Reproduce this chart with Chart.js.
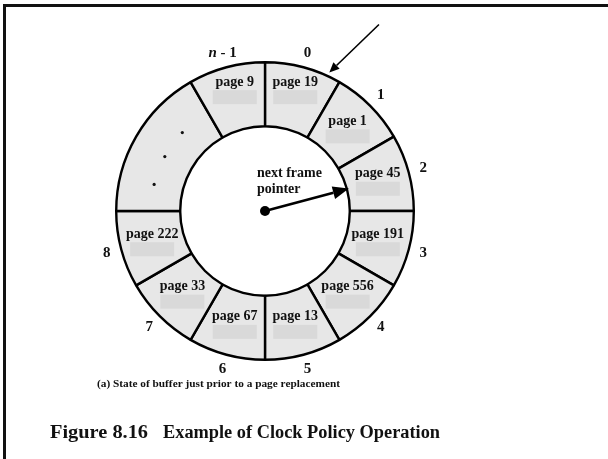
<!DOCTYPE html>
<html>
<head>
<meta charset="utf-8">
<script src="https://cdn.jsdelivr.net/npm/chart.js@4/dist/chart.umd.min.js"></script>
<style>
  html, body { margin: 0; padding: 0; background: #fff; }
  #wrap { position: relative; width: 608px; height: 459px; }
  #frame { position: absolute; left: 3px; top: 4px; right: 0; bottom: 0;
           border-top: 3px solid #111; border-left: 3px solid #111; pointer-events: none; }
</style>
</head>
<body>
<div id="wrap">
  <canvas id="clock" width="608" height="459"></canvas>
  <div id="frame"></div>
</div>
<script>
// Buffer frames, clockwise from the top (frame 0)
const pageLabels   = ['page 19', 'page 1', 'page 45', 'page 191', 'page 556', 'page 13', 'page 67', 'page 33', 'page 222', '', 'page 9'];
const frameSizes   = [1, 1, 1, 1, 1, 1, 1, 1, 1, 2, 1];
const frameNumbers = ['0', '1', '2', '3', '4', '5', '6', '7', '8', '', 'n - 1'];
const pointerFrame = 2;   // next frame pointer
const captionText  = '(a) State of buffer just prior to a page replacement';
const figureNum    = 'Figure 8.16';
const figureTitle  = 'Example of Clock Policy Operation';

const SERIF = '"Liberation Serif", "Times New Roman", serif';
const ringFill = '#e7e7e7';
const boxFill  = '#d9d9d9';

function arrow(ctx, x1, y1, x2, y2, width, headLen, headHalf) {
    const a = Math.atan2(y2 - y1, x2 - x1);
    const bx = x2 - headLen * Math.cos(a), by = y2 - headLen * Math.sin(a);
    ctx.beginPath();
    ctx.moveTo(x1, y1);
    ctx.lineTo(bx, by);
    ctx.lineWidth = width;
    ctx.strokeStyle = '#000';
    ctx.stroke();
    ctx.beginPath();
    ctx.moveTo(x2, y2);
    ctx.lineTo(bx + headHalf * Math.sin(a), by - headHalf * Math.cos(a));
    ctx.lineTo(bx - headHalf * Math.sin(a), by + headHalf * Math.cos(a));
    ctx.closePath();
    ctx.fillStyle = '#000';
    ctx.fill();
}

function fitText(ctx, text, x, y, width) {
    const w = ctx.measureText(text).width;
    ctx.save();
    ctx.translate(x, y);
    ctx.scale(width / w, 1);
    ctx.fillText(text, 0, 0);
    ctx.restore();
}

// Labels, numbers, dots and pointers drawn on top of the ring
const clockDecor = {
    id: 'clockDecor',
    afterDraw(chart) {
        const ctx = chart.ctx;
        const arcs = chart.getDatasetMeta(0).data;
        ctx.save();
        let cx = 0, cy = 0, rIn = 0, rOut = 0;
        arcs.forEach((arc, i) => {
            const p = arc.getProps(['x', 'y', 'startAngle', 'endAngle', 'innerRadius', 'outerRadius'], true);
            cx = p.x; cy = p.y; rIn = p.innerRadius; rOut = p.outerRadius;
            const mid = (p.startAngle + p.endAngle) / 2;
            const rMid = (p.innerRadius + p.outerRadius) / 2;
            let lx = p.x + rMid * Math.cos(mid);
            let ly = p.y + rMid * Math.sin(mid);
            if (Math.sin(mid) < -0.9) ly -= 9;

            if (pageLabels[i]) {
                ctx.fillStyle = boxFill;
                ctx.fillRect(lx - 22, ly + 1, 44, 14);
                ctx.fillStyle = '#111';
                ctx.font = 'bold 14px ' + SERIF;
                ctx.textAlign = 'center';
                ctx.textBaseline = 'middle';
                ctx.fillText(pageLabels[i], lx, ly - 7);
            } else {
                // unlabelled run of frames: three dots
                ctx.fillStyle = '#111';
                for (let k = 0; k < 3; k++) {
                    const a = p.startAngle + (p.endAngle - p.startAngle) * (k + 0.9) / 4;
                    ctx.beginPath();
                    ctx.arc(p.x + 114 * Math.cos(a), p.y + 114 * Math.sin(a), 1.6, 0, Math.PI * 2);
                    ctx.fill();
                }
            }

            const num = frameNumbers[i];
            if (num) {
                const nx = p.x + (p.outerRadius + 15) * Math.cos(mid);
                const ny = p.y + (p.outerRadius + 15) * Math.sin(mid);
                ctx.fillStyle = '#111';
                ctx.textBaseline = 'middle';
                if (num.startsWith('n')) {
                    const rest = num.slice(1);
                    ctx.font = 'italic bold 15px ' + SERIF;
                    const w1 = ctx.measureText('n').width;
                    ctx.font = 'bold 15px ' + SERIF;
                    const w2 = ctx.measureText(rest).width;
                    const x0 = nx - (w1 + w2) / 2;
                    ctx.textAlign = 'left';
                    ctx.font = 'italic bold 15px ' + SERIF;
                    ctx.fillText('n', x0, ny);
                    ctx.font = 'bold 15px ' + SERIF;
                    ctx.fillText(rest, x0 + w1, ny);
                } else {
                    ctx.textAlign = 'center';
                    ctx.font = 'bold 15px ' + SERIF;
                    ctx.fillText(num, nx, ny);
                }
            }

            // outer arrow into frame 0
            if (i === 0) {
                const a = p.startAngle + (p.endAngle - p.startAngle) * 0.83;
                const tx = p.x + (p.outerRadius + 4) * Math.cos(a);
                const ty = p.y + (p.outerRadius + 4) * Math.sin(a);
                const d = -44 * Math.PI / 180;
                arrow(ctx, tx + 69 * Math.cos(d), ty + 69 * Math.sin(d), tx, ty, 1.6, 10, 4.5);
            }
        });

        // next frame pointer
        const pa = arcs[pointerFrame].getProps(['startAngle', 'endAngle'], true);
        const pm = (pa.startAngle + pa.endAngle) / 2;
        arrow(ctx, cx, cy, cx + (rIn + 2) * Math.cos(pm), cy + (rIn + 2) * Math.sin(pm), 2.6, 16, 6.5);
        ctx.beginPath();
        ctx.arc(cx, cy, 5, 0, Math.PI * 2);
        ctx.fillStyle = '#000';
        ctx.fill();

        ctx.fillStyle = '#111';
        ctx.font = 'bold 14px ' + SERIF;
        ctx.textAlign = 'left';
        ctx.textBaseline = 'alphabetic';
        ctx.fillText('next frame', cx - 8, cy - 34);
        ctx.fillText('pointer', cx - 8, cy - 18);

        // caption and figure title
        ctx.font = 'bold 11px ' + SERIF;
        fitText(ctx, captionText, 97, 387, 243);
        ctx.font = 'bold 18px ' + SERIF;
        fitText(ctx, figureNum, 50, 438, 98);
        fitText(ctx, figureTitle, 163, 438, 277);
        ctx.restore();
    }
};

const ctx = document.getElementById('clock').getContext('2d');
const clockChart = new Chart(ctx, {
    type: 'doughnut',
    data: {
        labels: pageLabels,
        datasets: [{
            data: frameSizes,
            backgroundColor: ringFill,
            borderColor: '#000',
            borderWidth: 2.4,
            hoverOffset: 0
        }]
    },
    options: {
        responsive: false,
        animation: false,
        events: [],
        cutout: '57%',
        layout: { padding: { top: 61, bottom: 98, left: 115, right: 193 } },
        plugins: {
            legend: { display: false },
            tooltip: { enabled: false }
        }
    },
    plugins: [clockDecor]
});
</script>
</body>
</html>
